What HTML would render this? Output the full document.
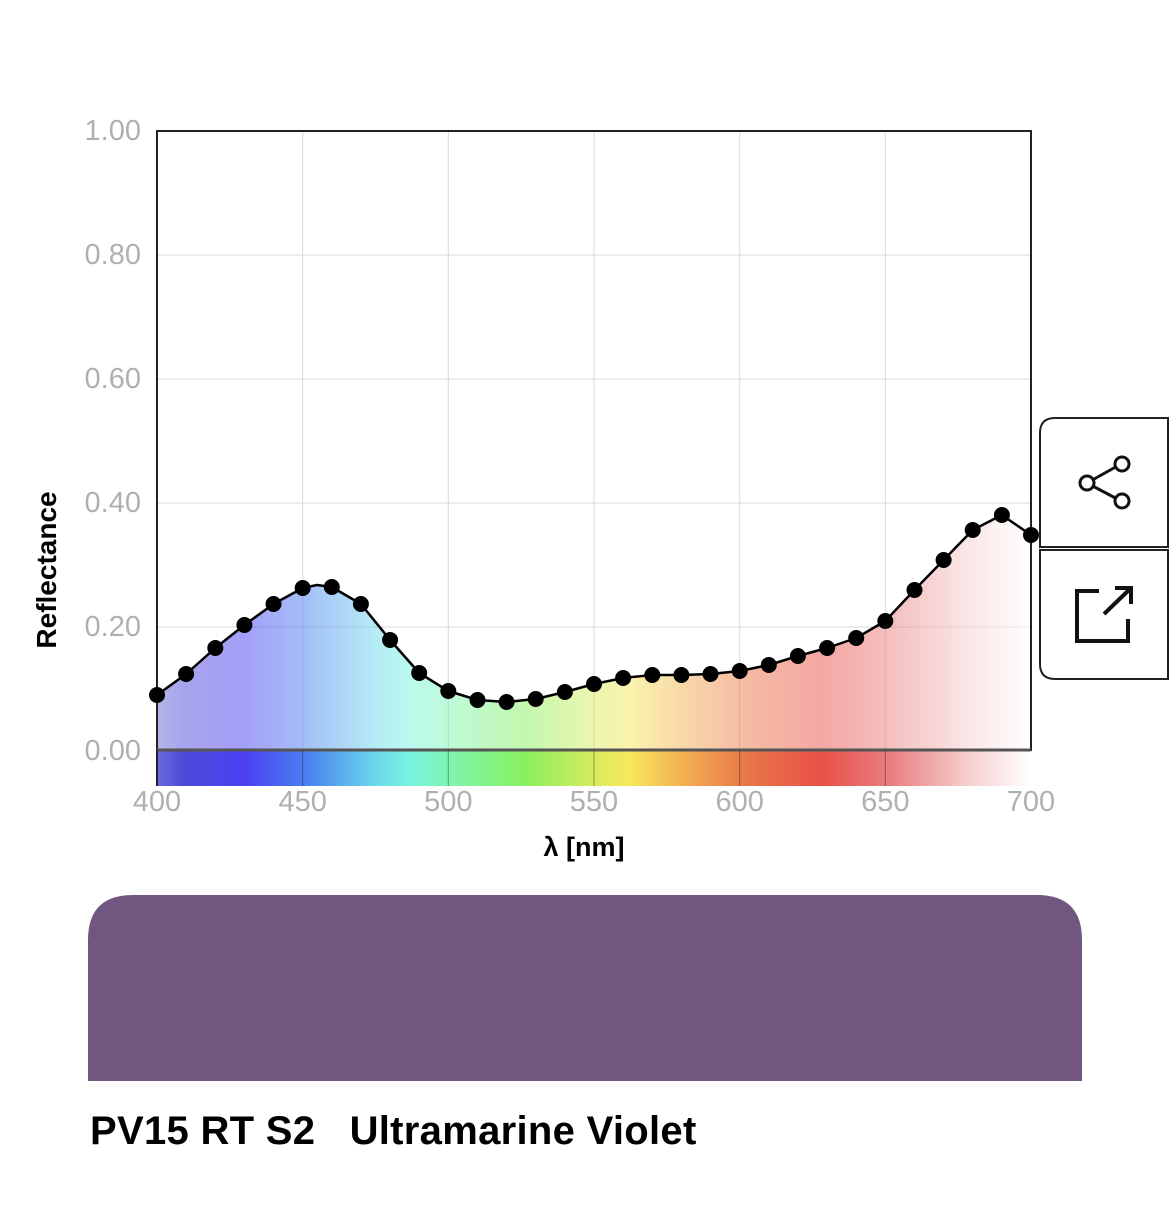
<!DOCTYPE html>
<html><head><meta charset="utf-8"><style>
html,body{margin:0;padding:0;background:#fff;}
body{width:1170px;height:1229px;position:relative;overflow:hidden;font-family:"Liberation Sans",sans-serif;}
</style></head><body>
<svg width="1170" height="1229" viewBox="0 0 1170 1229" xmlns="http://www.w3.org/2000/svg" style="position:absolute;left:0;top:0">
<defs>
<linearGradient id="sp" x1="157" x2="1031" y1="0" y2="0" gradientUnits="userSpaceOnUse">
<stop offset="0" stop-color="#6a6ad8"/>
<stop offset="0.03" stop-color="#4e4ad8"/>
<stop offset="0.1" stop-color="#4a3ff2"/>
<stop offset="0.17" stop-color="#4a80f0"/>
<stop offset="0.25" stop-color="#6cd8ec"/>
<stop offset="0.29" stop-color="#78f4e0"/>
<stop offset="0.35" stop-color="#80f4a0"/>
<stop offset="0.42" stop-color="#88f060"/>
<stop offset="0.5" stop-color="#d8ec60"/>
<stop offset="0.54" stop-color="#f7e85a"/>
<stop offset="0.62" stop-color="#f0a050"/>
<stop offset="0.68" stop-color="#e87448"/>
<stop offset="0.76" stop-color="#e85048"/>
<stop offset="0.84" stop-color="#e88080"/>
<stop offset="0.93" stop-color="#f6d0d0"/>
<stop offset="1" stop-color="#ffffff"/>
</linearGradient>
</defs>
<g stroke="#d8d8d8" stroke-width="1">
<line x1="157" y1="255" x2="1031" y2="255"/>
<line x1="157" y1="379" x2="1031" y2="379"/>
<line x1="157" y1="503" x2="1031" y2="503"/>
<line x1="157" y1="627" x2="1031" y2="627"/>
<line x1="302.7" y1="131" x2="302.7" y2="750"/>
<line x1="448.3" y1="131" x2="448.3" y2="750"/>
<line x1="594" y1="131" x2="594" y2="750"/>
<line x1="739.7" y1="131" x2="739.7" y2="750"/>
<line x1="885.3" y1="131" x2="885.3" y2="750"/>
</g>
<polygon fill="url(#sp)" fill-opacity="0.5" points="157,750 157,695 186.1,674 215.3,648 244.4,625 273.5,604 302.7,588 317,585 331.8,587 360.9,604 390.1,640 419.2,673 448.3,691 477.5,700 506.6,702 535.7,699 564.9,692 594,684 623.1,678 652.3,675 681.4,675 710.5,674 739.7,671 768.8,665 797.9,656 827.1,648 856.2,638 885.3,621 914.5,590 943.6,560 972.7,530 1001.9,515 1031,535 1031,750"/>
<rect x="157" y="131" width="874" height="619" fill="none" stroke="#222" stroke-width="2"/>
<rect x="157" y="750" width="874" height="36" fill="url(#sp)"/>
<line x1="157" y1="750" x2="1031" y2="750" stroke="#555" stroke-width="3"/>
<line x1="157" y1="750" x2="157" y2="786" stroke="#222" stroke-width="2"/>
<g stroke="#000" stroke-opacity="0.35" stroke-width="1">
<line x1="302.7" y1="750" x2="302.7" y2="786"/><line x1="448.3" y1="750" x2="448.3" y2="786"/>
<line x1="594" y1="750" x2="594" y2="786"/><line x1="739.7" y1="750" x2="739.7" y2="786"/>
<line x1="885.3" y1="750" x2="885.3" y2="786"/>
</g>
<polyline fill="none" stroke="#000" stroke-width="2.5" stroke-linejoin="round" points="157,695 186.1,674 215.3,648 244.4,625 273.5,604 302.7,588 317,585 331.8,587 360.9,604 390.1,640 419.2,673 448.3,691 477.5,700 506.6,702 535.7,699 564.9,692 594,684 623.1,678 652.3,675 681.4,675 710.5,674 739.7,671 768.8,665 797.9,656 827.1,648 856.2,638 885.3,621 914.5,590 943.6,560 972.7,530 1001.9,515 1031,535"/>
<g fill="#000">
<circle cx="157" cy="695" r="8"/><circle cx="186.1" cy="674" r="8"/><circle cx="215.3" cy="648" r="8"/><circle cx="244.4" cy="625" r="8"/><circle cx="273.5" cy="604" r="8"/><circle cx="302.7" cy="588" r="8"/><circle cx="331.8" cy="587" r="8"/><circle cx="360.9" cy="604" r="8"/><circle cx="390.1" cy="640" r="8"/><circle cx="419.2" cy="673" r="8"/><circle cx="448.3" cy="691" r="8"/><circle cx="477.5" cy="700" r="8"/><circle cx="506.6" cy="702" r="8"/><circle cx="535.7" cy="699" r="8"/><circle cx="564.9" cy="692" r="8"/><circle cx="594" cy="684" r="8"/><circle cx="623.1" cy="678" r="8"/><circle cx="652.3" cy="675" r="8"/><circle cx="681.4" cy="675" r="8"/><circle cx="710.5" cy="674" r="8"/><circle cx="739.7" cy="671" r="8"/><circle cx="768.8" cy="665" r="8"/><circle cx="797.9" cy="656" r="8"/><circle cx="827.1" cy="648" r="8"/><circle cx="856.2" cy="638" r="8"/><circle cx="885.3" cy="621" r="8"/><circle cx="914.5" cy="590" r="8"/><circle cx="943.6" cy="560" r="8"/><circle cx="972.7" cy="530" r="8"/><circle cx="1001.9" cy="515" r="8"/><circle cx="1031" cy="535" r="8"/>
</g>
<g fill="#b0b0b0" font-size="29" text-anchor="end" font-family="Liberation Sans, sans-serif">
<text x="141" y="140">1.00</text><text x="141" y="264">0.80</text><text x="141" y="388">0.60</text>
<text x="141" y="512">0.40</text><text x="141" y="636">0.20</text><text x="141" y="760">0.00</text>
</g>
<g fill="#b0b0b0" font-size="29" text-anchor="middle" font-family="Liberation Sans, sans-serif">
<text x="157" y="811">400</text><text x="302.7" y="811">450</text><text x="448.3" y="811">500</text>
<text x="594" y="811">550</text><text x="739.7" y="811">600</text><text x="885.3" y="811">650</text><text x="1031" y="811">700</text>
</g>
<text x="584" y="856" font-size="27" font-weight="bold" text-anchor="middle" fill="#000">λ [nm]</text>
<text transform="translate(56,570) rotate(-90)" font-size="28" font-weight="bold" text-anchor="middle" fill="#000">Reflectance</text>
<path d="M1168,418 H1055 Q1040,418 1040,433 V547 H1168 Z" fill="#fff" stroke="#222" stroke-width="2"/>
<path d="M1168,550 H1040 V664 Q1040,679 1055,679 H1168 Z" fill="#fff" stroke="#222" stroke-width="2"/>
<g fill="none" stroke="#111" stroke-width="3">
<line x1="1087" y1="483" x2="1121" y2="464"/><line x1="1087" y1="483" x2="1121" y2="501"/>
<circle cx="1087" cy="483" r="7" fill="#fff"/><circle cx="1122" cy="464" r="7" fill="#fff"/><circle cx="1122" cy="501" r="7" fill="#fff"/>
<polyline points="1099,591 1077,591 1077,641 1128,641 1128,619" stroke-width="4"/>
<line x1="1104" y1="614" x2="1131" y2="588" stroke-width="4"/>
<polyline points="1115,588 1131,588 1131,604" stroke-width="4"/>
</g>
<path d="M88,1081 V940 Q88,895 133,895 H1037 Q1082,895 1082,940 V1081 Z" fill="#71577f"/>
<text x="90" y="1144" font-size="40" font-weight="bold" fill="#000" letter-spacing="0.3" xml:space="preserve">PV15 RT S2   Ultramarine Violet</text>
</svg>
</body></html>
